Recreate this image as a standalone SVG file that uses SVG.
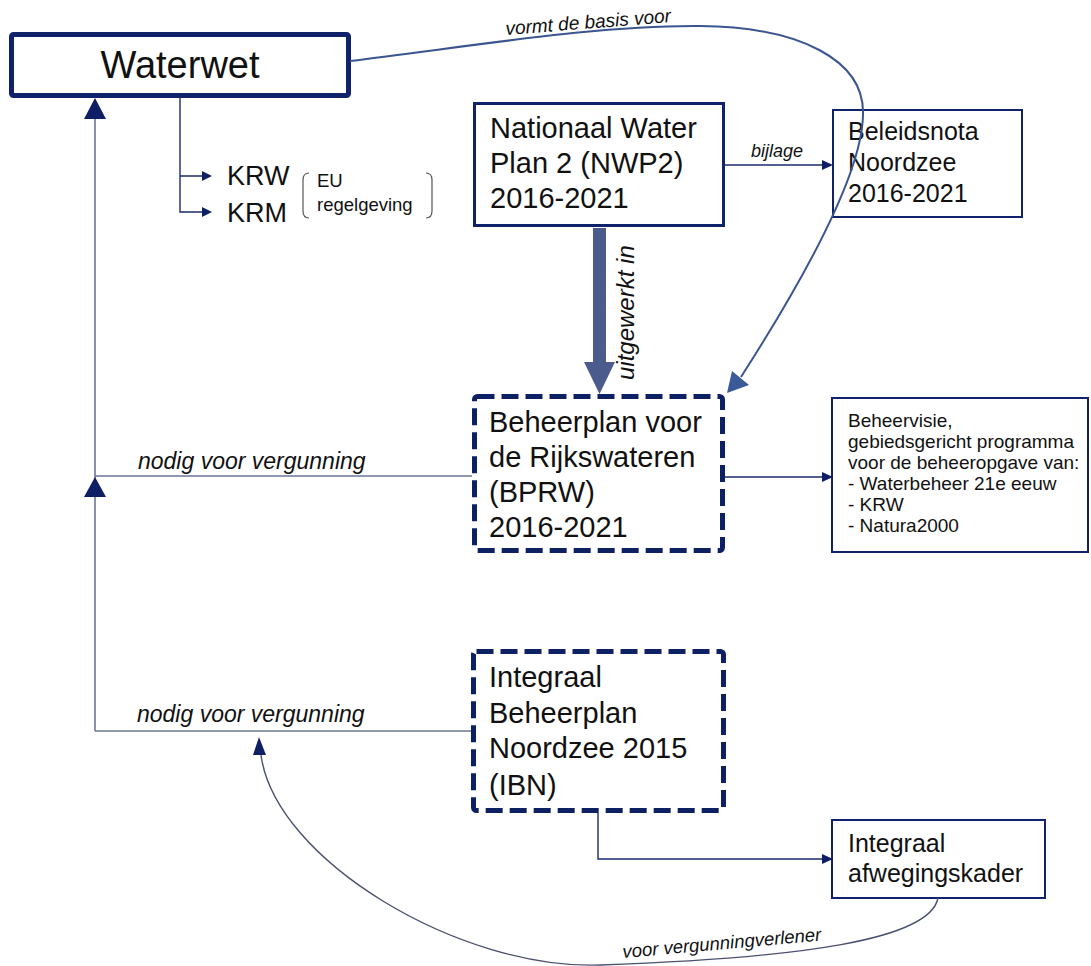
<svg xmlns="http://www.w3.org/2000/svg" width="1091" height="966" viewBox="0 0 1091 966">
<style>
.t{font-family:"Liberation Sans",Arial,sans-serif;fill:#111}
.i{font-family:"Liberation Sans",Arial,sans-serif;font-style:italic;fill:#111}
.box{fill:#fff;stroke:#10226a}
.dash{fill:#fff;stroke:#0c2063;stroke-width:5;stroke-dasharray:17 7}
.ln{fill:none;stroke:#6c7697;stroke-width:1.6}
.nv{fill:none;stroke:#1b2b6e;stroke-width:1.4}
.ah{fill:#0e1f66}
</style>
<g id="waterwet">
  <rect class="box" x="11.5" y="34.5" width="337" height="61" rx="2" stroke-width="5"/>
  <text class="t" font-size="38" x="180" y="78" text-anchor="middle">Waterwet</text>
</g>
<g id="krw-krm">
  <text class="t" font-size="27" x="227" y="185">KRW</text>
  <text class="t" font-size="27" x="227" y="222">KRM</text>
  <path d="M309,173 Q303,173 303,180 V211 Q303,218 309,218 M426,173 Q432,173 432,180 V211 Q432,218 426,218" fill="none" stroke="#555" stroke-width="1.2"/>
  <text class="t" font-size="18.5" x="317" y="187">EU</text>
  <text class="t" font-size="18.5" x="317" y="211">regelgeving</text>
</g>
<g id="nwp2">
  <rect class="box" x="474.5" y="103.5" width="249" height="122" stroke-width="3"/>
  <text class="t" font-size="29" x="490" y="138">Nationaal Water</text>
  <text class="t" font-size="29" x="490" y="173">Plan 2 (NWP2)</text>
  <text class="t" font-size="29" x="490" y="208">2016-2021</text>
</g>
<g id="beleidsnota">
  <rect class="box" x="833" y="110" width="189" height="107" stroke-width="2"/>
  <text class="t" font-size="25" x="848" y="140">Beleidsnota</text>
  <text class="t" font-size="25" x="848" y="171">Noordzee</text>
  <text class="t" font-size="25" x="848" y="202">2016-2021</text>
</g>
<g id="bprw">
  <rect class="dash" x="474.5" y="396.5" width="248" height="154" rx="3"/>
  <text class="t" font-size="29" x="489" y="432">Beheerplan voor</text>
  <text class="t" font-size="29" x="489" y="467">de Rijkswateren</text>
  <text class="t" font-size="29" x="489" y="502">(BPRW)</text>
  <text class="t" font-size="29" x="489" y="537">2016-2021</text>
</g>
<g id="beheervisie">
  <rect class="box" x="832" y="398" width="256" height="154" stroke-width="2"/>
  <text class="t" font-size="19" x="848" y="427">Beheervisie,</text>
  <text class="t" font-size="19" x="848" y="448">gebiedsgericht programma</text>
  <text class="t" font-size="19" x="848" y="469">voor de beheeropgave van:</text>
  <text class="t" font-size="19" x="848" y="490">- Waterbeheer 21e eeuw</text>
  <text class="t" font-size="19" x="848" y="511">- KRW</text>
  <text class="t" font-size="19" x="848" y="532">- Natura2000</text>
</g>
<g id="ibn">
  <rect class="dash" x="473.5" y="651.5" width="250" height="159" rx="3"/>
  <text class="t" font-size="29" x="489" y="687">Integraal</text>
  <text class="t" font-size="29" x="489" y="723">Beheerplan</text>
  <text class="t" font-size="29" x="489" y="758">Noordzee 2015</text>
  <text class="t" font-size="29" x="489" y="795">(IBN)</text>
</g>
<g id="afwegingskader">
  <rect class="box" x="832" y="820" width="213" height="78" stroke-width="2"/>
  <text class="t" font-size="25" x="848" y="852">Integraal</text>
  <text class="t" font-size="25" x="848" y="882">afwegingskader</text>
</g>
<g id="connectors">
  <path class="ln" d="M95,99 V731 M95,476 H472 M95,731 H471"/>
  <polygon class="ah" points="95,98 84,119 106,119"/>
  <polygon class="ah" points="95,477 84,497 106,497"/>
  <path class="nv" d="M180,97 V212 H203 M180,176 H203"/>
  <polygon class="ah" points="212,176 202,171 202,181"/>
  <polygon class="ah" points="212,212 202,207 202,217"/>
  <path class="nv" d="M725,165 H823"/>
  <polygon class="ah" points="833,165 822,160 822,170"/>
  <path class="nv" d="M725,477 H823"/>
  <polygon class="ah" points="833,477 822,472 822,482"/>
  <path class="nv" d="M598,813 V859 H823"/>
  <polygon class="ah" points="833,859 822,854 822,864"/>
  <rect x="593" y="228" width="13" height="135" fill="#4b5b8c"/>
  <polygon points="584,362 615,362 599.5,394" fill="#4b5b8c"/>
  <path d="M350,61 C480,45 600,25 700,26 C800,27 865,60 863,115 C862,175 800,285 741,377" fill="none" stroke="#3b5590" stroke-width="2"/>
  <polygon points="727,393 732,371 749,385" fill="#3b5a98"/>
  <path d="M938,898 C930,940 800,958 600,965 C460,970 275,860 261,755" fill="none" stroke="#4a5070" stroke-width="1.4"/>
  <polygon class="ah" points="259,737 253,755 266,755"/>
  <text class="i" font-size="19" transform="translate(506,35) rotate(-4.5)">vormt de basis voor</text>
  <text class="i" font-size="18" x="751" y="157">bijlage</text>
  <text class="i" font-size="24" transform="translate(634,380) rotate(-90)">uitgewerkt in</text>
  <text class="i" font-size="23" x="138" y="469">nodig voor vergunning</text>
  <text class="i" font-size="23" x="137" y="722">nodig voor vergunning</text>
  <text class="i" font-size="18.5" transform="translate(623,958) rotate(-5)">voor vergunningverlener</text>
</g>
</svg>
